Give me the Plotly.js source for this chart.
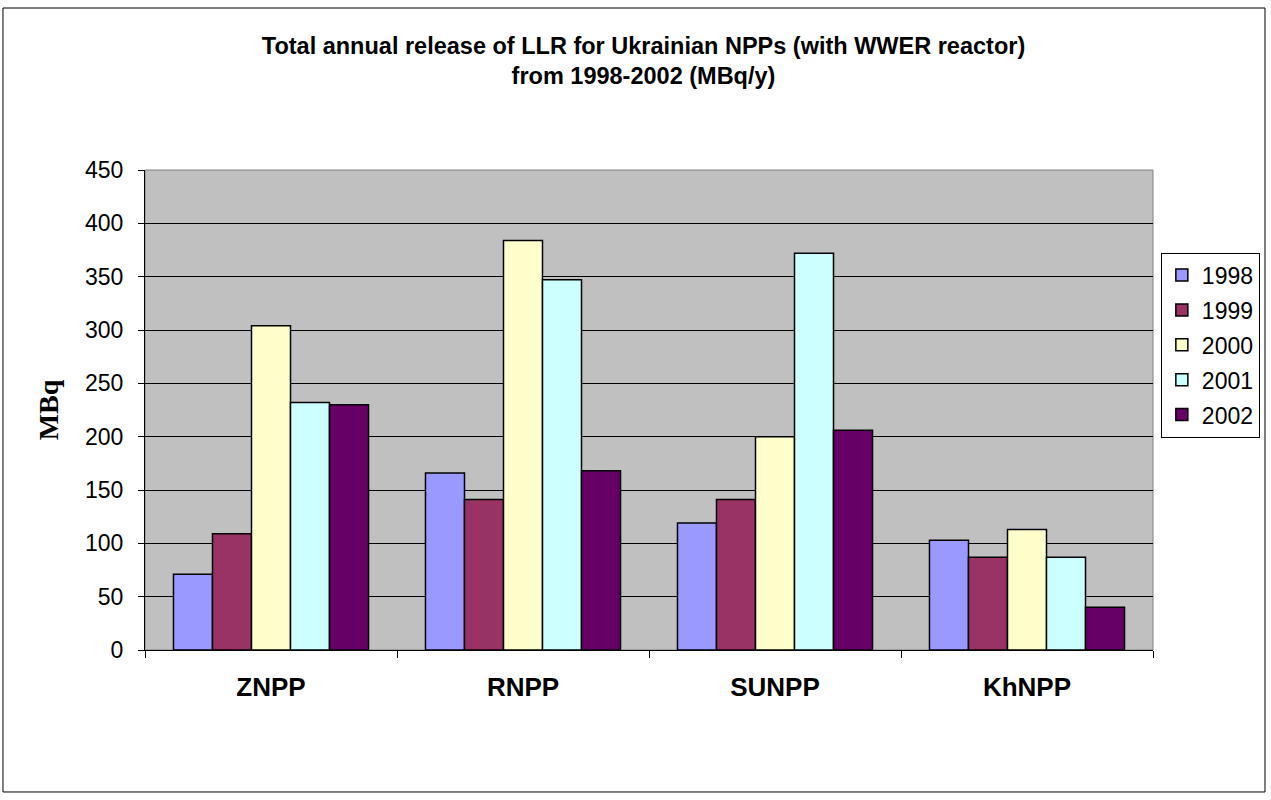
<!DOCTYPE html>
<html>
<head>
<meta charset="utf-8">
<script src="https://cdn.plot.ly/plotly-3.0.1.min.js"></script>
<style>html,body{margin:0;padding:0;background:#fff;}#chart{width:1271px;height:800px;}</style>
</head>
<body>
<div id="chart"></div>
<script>
const categories = ["ZNPP", "RNPP", "SUNPP", "KhNPP"];
const years = ["1998", "1999", "2000", "2001", "2002"];
const v1998 = [71, 166, 119, 103];
const v1999 = [109, 141, 141, 87];
const v2000 = [304, 384, 200, 113];
const v2001 = [232, 347, 372, 87];
const v2002 = [230, 168, 206, 40];
const seriesValues = [v1998, v1999, v2000, v2001, v2002];
const colors = ["#9999FF", "#993366", "#FFFFCC", "#CCFFFF", "#660066"];

const traces = years.map((y, i) => ({
  type: "bar",
  name: y,
  x: categories,
  y: seriesValues[i],
  legendgroup: y,
  marker: {color: colors[i], line: {color: "#000", width: 1.5}},
  hoverinfo: "x+y+name"
}));

const layout = {
  width: 1271, height: 800,
  margin: {l: 145, r: 118, t: 170, b: 150, autoexpand: false},
  paper_bgcolor: "#fff",
  plot_bgcolor: "#C0C0C0",
  font: {family: "Arial, 'Liberation Sans', sans-serif", color: "#000", size: 23},
  title: {
    text: "Total annual release of LLR for Ukrainian NPPs (with WWER reactor)<br>from 1998-2002 (MBq/y)",
    font: {size: 23.5, family: "Arial, 'Liberation Sans', sans-serif", weight: "bold"},
    x: 0.5063, xanchor: "center", y: 0.933, yanchor: "top"
  },
  barmode: "group",
  bargap: 0.226,
  bargroupgap: 0,
  xaxis: {
    type: "category",
    tickson: "boundaries",
    ticks: "outside", ticklen: 7, tickcolor: "#000",
    showline: true, linecolor: "#000", linewidth: 1,
    tickfont: {size: 26, weight: "bold"},
    ticklabelstandoff: 14,
    showgrid: false,
    zeroline: false
  },
  yaxis: {
    range: [0, 450],
    dtick: 50,
    ticks: "outside", ticklen: 6, tickcolor: "#000",
    showline: true, linecolor: "#000", linewidth: 1,
    gridcolor: "#000", gridwidth: 1,
    tickfont: {size: 23},
    ticklabelstandoff: 10,
    zeroline: false,
    title: {text: "MBq", font: {family: "'Times New Roman', 'Liberation Serif', serif", size: 28, weight: "bold"}, standoff: 18}
  },
  legend: {
    x: 1.106, xanchor: "right", y: 0.828, yanchor: "top",
    bgcolor: "#fff", bordercolor: "#000", borderwidth: 1,
    font: {size: 23},
    traceorder: "grouped",
    tracegroupgap: 2,
    itemwidth: 30
  },
  shapes: [
    {type: "rect", xref: "paper", yref: "paper", x0: 0, x1: 1, y0: 0, y1: 1,
     line: {color: "#808080", width: 1}, layer: "below"},
    {type: "rect", xref: "paper", yref: "paper", x0: -0.1409, x1: 1.1111, y0: -0.2958, y1: 1.3375,
     line: {color: "#000", width: 1}}
  ]
};

Plotly.newPlot("chart", traces, layout, {displayModeBar: false, staticPlot: true});
</script>
</body>
</html>
